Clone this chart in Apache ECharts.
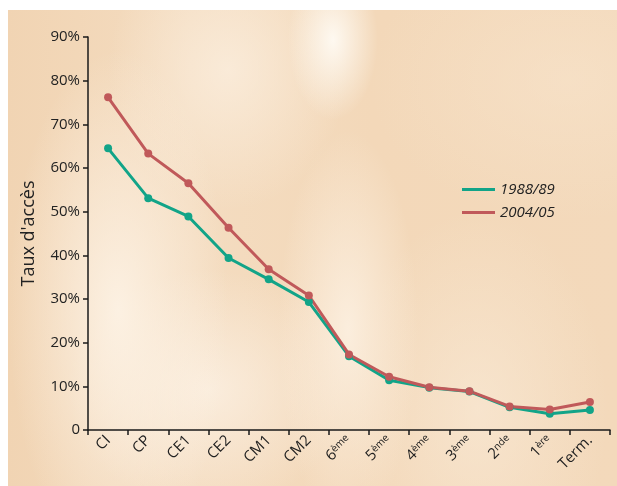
<!DOCTYPE html>
<html><head><meta charset="utf-8">
<script src="https://cdn.jsdelivr.net/npm/echarts@6/dist/echarts.min.js"></script>
<style>
html,body{margin:0;padding:0;background:#fff;}
#wrap{position:absolute;left:0;top:0;width:617px;height:486px;background:#fff;}
#bg{position:absolute;left:8px;top:10px;width:609px;height:476px;
background:
radial-gradient(ellipse 45px 80px at 325px 30px, rgba(255,252,246,0.9), rgba(255,252,246,0) 100%),
radial-gradient(ellipse 110px 260px at 110px 300px, rgba(253,243,230,0.9), rgba(253,243,230,0) 100%),
radial-gradient(ellipse 70px 200px at 340px 320px, rgba(252,240,225,0.9), rgba(252,240,225,0) 100%),
radial-gradient(ellipse 140px 120px at 200px 380px, rgba(252,241,228,0.8), rgba(252,241,228,0) 100%),
radial-gradient(ellipse 130px 200px at 470px 400px, rgba(250,236,218,0.6), rgba(250,236,218,0) 100%),
radial-gradient(ellipse 120px 140px at 220px 60px, rgba(251,238,222,0.8), rgba(251,238,222,0) 100%),
radial-gradient(ellipse 200px 140px at 560px 70px, rgba(248,228,204,0.6), rgba(248,228,204,0) 100%),
linear-gradient(90deg,#f1d4b3 0%,#f4dcc0 30%,#f3d8b9 60%,#f3d9bb 100%);}
#chart{position:absolute;left:0;top:0;width:617px;height:486px;}
</style></head>
<body><div id="wrap"><div id="bg"></div><div id="chart"></div></div>
<script>
const categories = ['CI','CP','CE1','CE2','CM1','CM2','6ème','5ème','4ème','3ème','2nde','1ère','Term.'];
const series1988 = [64.5, 53.1, 48.9, 39.4, 34.5, 29.3, 16.9, 11.4, 9.7, 8.8, 5.2, 3.7, 4.6];
const series2004 = [76.2, 63.3, 56.5, 46.3, 36.8, 30.8, 17.3, 12.2, 9.8, 8.9, 5.4, 4.7, 6.4];
const seriesNames = ['1988/89', '2004/05'];
const yTicks = [0,10,20,30,40,50,60,70,80,90];

const chart = echarts.init(document.getElementById('chart'), null, {renderer:'canvas'});
const FONT = 'Open Sans';
chart.setOption({
  backgroundColor: 'transparent',
  animation: false,
  grid: {left: 88, right: 7, top: 37, bottom: 56, containLabel: false},
  legend: {
    orient: 'vertical', left: 457, top: 177, itemWidth: 33, itemHeight: 3, itemGap: 8,
    icon: 'rect',
    data: seriesNames,
    textStyle: {fontFamily: FONT, fontStyle: 'italic', fontSize: 15, color: '#222'}
  },
  xAxis: {
    type: 'category', data: categories, boundaryGap: true,
    axisLine: {lineStyle: {color: '#1a1a1a', width: 1.5}},
    axisTick: {show: true, length: 5, lineStyle: {color: '#1a1a1a', width: 1.5}},
    axisLabel: {
      rotate: 45, margin: 8, interval: 0, color: '#222', fontFamily: FONT, fontSize: 15,
      formatter: function (v) {
        const m = v.match(/^(\d)(.+)$/);
        return m ? m[1] + '{s|' + m[2] + '}' : v;
      },
      rich: {s: {fontSize: 10, verticalAlign: 'top', lineHeight: 15, color: '#222', fontFamily: FONT, padding:[0,0,6,0]}}
    }
  },
  yAxis: {
    type: 'value', min: 0, max: 90, interval: 10,
    name: "Taux d'accès", nameLocation: 'middle', nameGap: 50,
    nameTextStyle: {fontFamily: FONT, fontSize: 18, color: '#222'},
    axisLine: {show: true, lineStyle: {color: '#1a1a1a', width: 1.5}},
    axisTick: {show: true, length: 5, lineStyle: {color: '#1a1a1a', width: 1.5}},
    splitLine: {show: false},
    axisLabel: {margin: 8, color: '#222', fontFamily: FONT, fontSize: 15,
      formatter: v => yTicks.includes(v) ? (v === 0 ? '0' : v + '%') : ''}
  },
  series: [
    {name: seriesNames[0], type: 'line', data: series1988, symbol: 'circle', symbolSize: 8,
     lineStyle: {width: 3, color: '#12a488'}, itemStyle: {color: '#12a488'}},
    {name: seriesNames[1], type: 'line', data: series2004, symbol: 'circle', symbolSize: 8,
     lineStyle: {width: 3, color: '#c0595a'}, itemStyle: {color: '#c0595a'}}
  ]
});
</script></body></html>
